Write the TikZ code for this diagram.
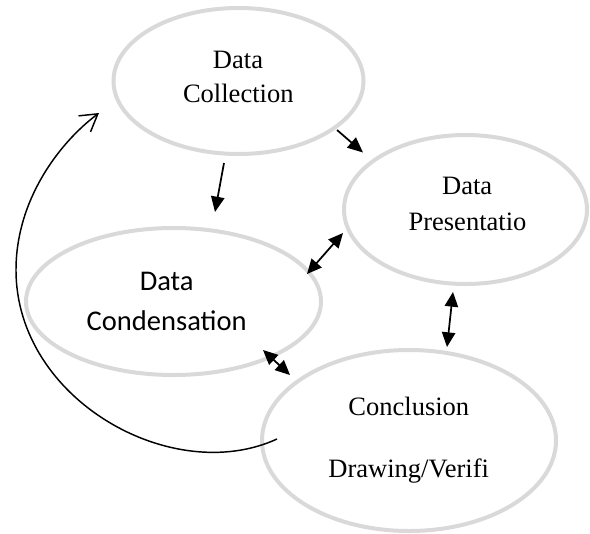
\documentclass[tikz,border=0pt]{standalone}
\usepackage{fontspec}
\setmainfont{Liberation Serif}
\newfontfamily\calibri{Carlito}
\usetikzlibrary{shapes.geometric,arrows.meta}
\definecolor{ellgray}{RGB}{217,217,217}
\begin{document}
\begin{tikzpicture}[x=0.75pt,y=-0.75pt,
  ell/.style={ellipse, draw=ellgray, line width=3pt, inner sep=0pt},
  serif/.style={font=\fontsize{19.9}{23}\selectfont, inner sep=0pt, anchor=base},
  sans/.style={font=\calibri\fontsize{21.4}{25}\selectfont, inner sep=0pt, anchor=base},
  arr/.style={line width=1.3pt, -{Triangle[length=11.5pt,width=10pt]}},
  darr/.style={line width=1.3pt, {Triangle[length=11pt,width=10pt]}-{Triangle[length=11pt,width=10pt]}},
  backarrow/.style={line width=1.1pt, -{Straight Barb[length=12.5pt,width=15pt]}}
]
\useasboundingbox (0,0) rectangle (590,533);

% ellipses
\node[ell, minimum width=187.5pt, minimum height=109.5pt] (collect) at (238.5,81) {};
\node[ell, minimum width=182.25pt, minimum height=111.75pt] (present) at (465.5,209.5) {};
\node[ell, minimum width=221.25pt, minimum height=110.25pt] (condense) at (173.5,301.5) {};
\node[ell, minimum width=220.5pt, minimum height=135.75pt] (conclude) at (409,440.5) {};

% texts
\node[serif] (collectA) at (238,68.3) {Data};
\node[serif] (collectB) at (238.3,102.7) {Collection};
\node[serif] (presA) at (467.2,194.3) {Data};
\node[serif] (presB) at (467.5,230) {Presentatio};
\node[sans] (condA) at (166.7,290) {Data};
\node[sans] (condB) at (166.7,330.8) {Condensation};
\node[serif] (concA) at (408.8,415) {Conclusion};
\node[serif] (concB) at (408.7,477.3) {Drawing/Verifi};

% arrow end points
\coordinate (a1s) at (337,130);   \coordinate (a1e) at (363,152.5);
\coordinate (a2s) at (224,163);   \coordinate (a2e) at (215,212);
\coordinate (a3s) at (343,233);   \coordinate (a3e) at (307,274);
\coordinate (a4s) at (453,292);   \coordinate (a4e) at (447,347);
\coordinate (a5s) at (263,350);   \coordinate (a5e) at (290,375);
\coordinate (ls) at (277,439);    \coordinate (lm) at (16,270);    \coordinate (le) at (99,113);

\draw[arr] (a1s) -- (a1e);
\draw[arr] (a2s) -- (a2e);
\draw[darr] (a3s) -- (a3e);
\draw[darr] (a4s) -- (a4e);
\draw[darr] (a5s) -- (a5e);
\draw[backarrow] (ls) .. controls (172.6,487) and (16,400) .. (lm)
                      .. controls (16,200) and (59,143) .. (le);
\end{tikzpicture}
\end{document}
